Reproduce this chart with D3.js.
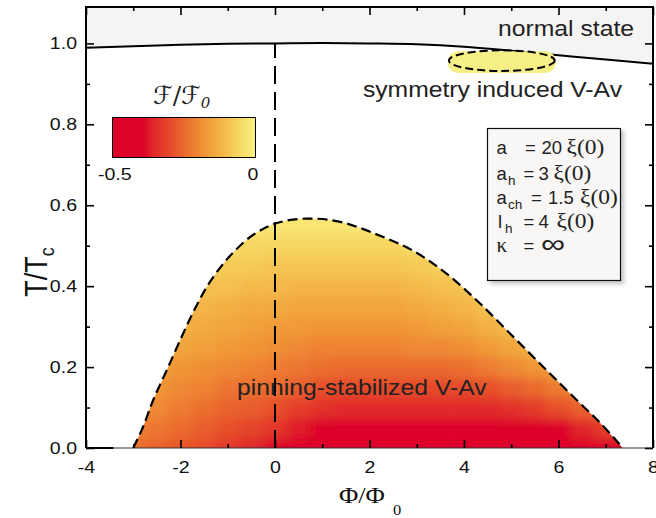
<!DOCTYPE html>
<html><head><meta charset="utf-8">
<script src="https://cdn.jsdelivr.net/npm/d3@7"></script>
<style>body{margin:0;background:#fff} svg{display:block}</style>
</head><body><svg id="c" width="656" height="518"></svg>
<script>
// ---------- data ----------
const xMajorTicks = [-4, -2, 0, 2, 4, 6, 8];
const xMinorTicks = [-3, -1, 1, 3, 5, 7];
const yMajorTicks = [0, 0.2, 0.4, 0.6, 0.8, 1.0];
const yMinorTicks = [0.1, 0.3, 0.5, 0.7, 0.9];

// upper critical line T_c(Phi) (normal state boundary)
const normalPhi = [-4, -3, -2, -1, 0, 1, 2, 3, 4, 5, 6, 7, 8];
const normalT   = [0.989, 0.993, 0.9965, 0.999, 1.0, 1.001, 1.0, 0.998, 0.992, 0.982, 0.971, 0.960, 0.950];

// pinning-stabilized V-Av boundary (dashed dome)
const domePhi = [-3.0, -2.8, -2.58, -2.3, -2.01, -1.7, -1.38, -0.95, -0.46, 0.04, 0.67, 1.38, 2.15, 2.93, 3.63, 4.34, 5.05, 5.75, 6.39, 6.9, 7.36];
const domeT   = [0, 0.05, 0.118, 0.19, 0.266, 0.343, 0.410, 0.475, 0.527, 0.556, 0.567, 0.559, 0.528, 0.487, 0.431, 0.357, 0.274, 0.192, 0.118, 0.06, 0];

// free energy map F/F0 (grid centres)
const gridPhi = [-3, -2.5, -2, -1.5, -1, -0.5, 0, 0.5, 1, 1.5, 2, 2.5, 3, 3.5, 4, 4.5, 5, 5.5, 6, 6.5, 7, 7.5];
const gridT = [0, 0.05, 0.10, 0.15, 0.20, 0.25, 0.30, 0.35, 0.40, 0.45, 0.50, 0.55];
const gridF = [
  [-0.24,-0.26,-0.28,-0.30,-0.33,-0.36,-0.39,-0.43,-0.47,-0.49,-0.50,-0.50,-0.50,-0.50,-0.50,-0.50,-0.50,-0.50,-0.49,-0.47,-0.44,-0.42],
  [-0.21,-0.23,-0.25,-0.27,-0.29,-0.31,-0.33,-0.37,-0.40,-0.41,-0.42,-0.42,-0.42,-0.42,-0.42,-0.42,-0.42,-0.41,-0.39,-0.36,-0.32,-0.30],
  [-0.19,-0.20,-0.22,-0.24,-0.26,-0.27,-0.29,-0.32,-0.34,-0.35,-0.35,-0.35,-0.35,-0.35,-0.35,-0.35,-0.34,-0.32,-0.29,-0.26,-0.24,-0.22],
  [-0.17,-0.18,-0.20,-0.21,-0.23,-0.24,-0.25,-0.27,-0.29,-0.30,-0.30,-0.30,-0.30,-0.30,-0.30,-0.29,-0.27,-0.25,-0.22,-0.20,-0.18,-0.17],
  [-0.15,-0.16,-0.18,-0.19,-0.20,-0.21,-0.22,-0.23,-0.24,-0.25,-0.25,-0.25,-0.25,-0.25,-0.24,-0.22,-0.20,-0.18,-0.16,-0.15,-0.14,-0.13],
  [-0.13,-0.14,-0.15,-0.16,-0.17,-0.18,-0.19,-0.20,-0.21,-0.21,-0.21,-0.21,-0.20,-0.20,-0.19,-0.17,-0.15,-0.13,-0.12,-0.11,-0.10,-0.10],
  [-0.11,-0.12,-0.13,-0.14,-0.15,-0.16,-0.17,-0.17,-0.18,-0.18,-0.18,-0.18,-0.17,-0.16,-0.15,-0.13,-0.11,-0.10,-0.09,-0.09,-0.08,-0.08],
  [-0.09,-0.10,-0.11,-0.12,-0.13,-0.14,-0.14,-0.15,-0.15,-0.15,-0.15,-0.15,-0.14,-0.13,-0.12,-0.10,-0.09,-0.08,-0.08,-0.07,-0.07,-0.07],
  [-0.07,-0.08,-0.09,-0.10,-0.10,-0.11,-0.11,-0.12,-0.12,-0.12,-0.12,-0.12,-0.11,-0.10,-0.09,-0.08,-0.07,-0.07,-0.06,-0.06,-0.06,-0.06],
  [-0.05,-0.06,-0.07,-0.07,-0.08,-0.08,-0.09,-0.09,-0.09,-0.09,-0.09,-0.09,-0.08,-0.07,-0.07,-0.06,-0.05,-0.05,-0.05,-0.05,-0.05,-0.05],
  [-0.03,-0.04,-0.04,-0.05,-0.05,-0.06,-0.06,-0.06,-0.06,-0.06,-0.06,-0.06,-0.05,-0.05,-0.04,-0.04,-0.04,-0.04,-0.04,-0.04,-0.04,-0.04],
  [-0.02,-0.02,-0.02,-0.03,-0.03,-0.03,-0.03,-0.03,-0.03,-0.03,-0.03,-0.03,-0.03,-0.02,-0.02,-0.02,-0.02,-0.02,-0.02,-0.02,-0.02,-0.02]
];

// colour scale of F/F0
const cbarValues = [-0.5, -0.39, -0.36, -0.30, -0.24, -0.18, -0.12, -0.06, 0];
const cbarColors = ['#dc0029', '#dd0529', '#e0262a', '#e54a2b', '#eb702f', '#f09536', '#f4b546', '#f6d560', '#f9f485'];
const cbarTickLabels = ['-0.5', '0'];

// symmetry-induced V-Av pocket
const pocketPhi = 4.8, pocketT = 0.9575, pocketRPhi = 1.12, pocketRT = 0.0255;

// labels
const labelNormal = 'normal state';
const labelSym = 'symmetry induced V-Av';
const labelPin = 'pinning-stabilized V-Av';

// ---------- drawing ----------
const W = 656, H = 518;
const m = {l: 86, r: 3, t: 7, b: 70};
const svg = d3.select('#c');
const x = d3.scaleLinear().domain([-4, 8]).range([m.l, W - m.r]);
const y = d3.scaleLinear().domain([0, 1.09]).range([H - m.b, m.t]);
const color = d3.scaleLinear().domain(cbarValues).range(cbarColors).clamp(true);
const SX = 1.15;
const SANS = "'Liberation Sans', Arial, Helvetica, sans-serif";
const SERIF = "'Liberation Serif', 'Times New Roman', serif";
const hy = f => (d => f(d).replace('\u2212', '-'));

const defs = svg.append('defs');
defs.append('clipPath').attr('id', 'plotClip').append('rect')
  .attr('x', m.l).attr('y', m.t).attr('width', W - m.r - m.l).attr('height', H - m.b - m.t);
const domeCurve = d3.curveCatmullRom.alpha(0.5);
const domeArea = d3.area().x((d, i) => x(domePhi[i])).y0(y(0)).y1((d, i) => y(domeT[i])).curve(domeCurve);
defs.append('clipPath').attr('id', 'domeClip').append('path').attr('d', domeArea(domePhi));
const blur = defs.append('filter').attr('id', 'blur').attr('filterUnits', 'userSpaceOnUse')
  .attr('x', 0).attr('y', 0).attr('width', W).attr('height', H);
blur.append('feGaussianBlur').attr('stdDeviation', 5.5);
const sh = defs.append('filter').attr('id', 'shadow').attr('x', '-10%').attr('y', '-10%').attr('width', '130%').attr('height', '130%');
sh.append('feDropShadow').attr('dx', 3).attr('dy', 3).attr('stdDeviation', 2).attr('flood-color', '#888').attr('flood-opacity', 0.5);
const grad = defs.append('linearGradient').attr('id', 'cbar').attr('x1', '0%').attr('x2', '100%').attr('y1', '0%').attr('y2', '0%');
cbarValues.forEach((v, i) => grad.append('stop').attr('offset', ((v + 0.5) / 0.5 * 100) + '%').attr('stop-color', cbarColors[i]));

const plot = svg.append('g').attr('clip-path', 'url(#plotClip)');

// normal state region
const normalArea = d3.area().x((d, i) => x(normalPhi[i])).y0(y(1.09)).y1((d, i) => y(normalT[i])).curve(d3.curveMonotoneX);
plot.append('path').attr('d', normalArea(normalPhi)).attr('fill', '#f4f4f4');

// bottom axis line (thin) below heatmap
svg.append('line').attr('x1', x(-4)).attr('x2', x(8)).attr('y1', y(0)).attr('y2', y(0)).attr('stroke', '#333').attr('stroke-width', 1);
svg.append('line').attr('x1', x(-4)).attr('x2', x(-3.42)).attr('y1', y(0)).attr('y2', y(0)).attr('stroke', '#000').attr('stroke-width', 2);

// heatmap
const dPhi = 0.5, dT = 0.05;
const heat = plot.append('g').attr('clip-path', 'url(#domeClip)').append('g').attr('filter', 'url(#blur)');
gridT.forEach((t, i) => gridPhi.forEach((p, j) => {
  let p0 = p - dPhi / 2, p1 = p + dPhi / 2, t0 = t - dT / 2, t1 = t + dT / 2;
  if (i === 0) t0 -= 0.1;
  if (i === gridT.length - 1) t1 += 0.1;
  if (j === 0) p0 -= 0.6;
  if (j === gridPhi.length - 1) p1 += 0.6;
  heat.append('rect').attr('x', x(p0)).attr('y', y(t1))
    .attr('width', x(p1) - x(p0) + 0.6).attr('height', y(t0) - y(t1) + 0.6)
    .attr('fill', color(gridF[i][j]));
}));

// normal curve
const normalLine = d3.line().x((d, i) => x(normalPhi[i])).y((d, i) => y(normalT[i])).curve(d3.curveMonotoneX);
plot.append('path').attr('d', normalLine(normalPhi)).attr('fill', 'none').attr('stroke', '#000').attr('stroke-width', 2);

// dome dashed boundary
const domeLine = d3.line().x((d, i) => x(domePhi[i])).y((d, i) => y(domeT[i])).curve(domeCurve);
plot.append('path').attr('d', domeLine(domePhi)).attr('fill', 'none').attr('stroke', '#000')
  .attr('stroke-width', 2.2).attr('stroke-dasharray', '10,5');

// vertical dashed line at Phi = 0
plot.append('line').attr('x1', x(0)).attr('x2', x(0)).attr('y1', y(0)).attr('y2', y(1.0))
  .attr('stroke', '#000').attr('stroke-width', 2).attr('stroke-dasharray', '18,8');

// pocket (yellow highlight + dashed ellipse)
plot.append('rect').attr('x', x(pocketPhi - pocketRPhi) - 1).attr('y', y(pocketT + pocketRT) + 1)
  .attr('width', x(pocketPhi + pocketRPhi) - x(pocketPhi - pocketRPhi) + 2)
  .attr('height', y(pocketT - pocketRT) - y(pocketT + pocketRT) + 1)
  .attr('rx', 10).attr('fill', '#f6ef86');
plot.append('ellipse').attr('cx', x(pocketPhi)).attr('cy', y(pocketT))
  .attr('rx', x(pocketPhi + pocketRPhi) - x(pocketPhi)).attr('ry', y(pocketT - pocketRT) - y(pocketT))
  .attr('fill', 'none').attr('stroke', '#000').attr('stroke-width', 2).attr('stroke-dasharray', '8,4');

// axes
function styleAxis(g) { g.select('.domain').remove(); g.selectAll('line').attr('stroke', '#000').attr('stroke-width', 1.6); }
svg.append('g').attr('transform', `translate(0,${y(0)})`)
  .call(d3.axisBottom(x).tickValues(xMajorTicks).tickSizeInner(-8).tickSizeOuter(0).tickPadding(13).tickFormat(hy(d3.format('d'))))
  .call(styleAxis)
  .call(g => g.selectAll('text').attr('font-family', SANS).attr('font-size', 17).attr('fill', '#111').attr('transform', `scale(${SX},1)`));
svg.append('g').attr('transform', `translate(0,${y(0)})`)
  .call(d3.axisBottom(x).tickValues(xMinorTicks).tickSizeInner(-4).tickSizeOuter(0).tickFormat(''))
  .call(styleAxis);
svg.append('g').attr('transform', `translate(0,${y(1.09)})`)
  .call(d3.axisTop(x).tickValues(xMajorTicks).tickSizeInner(-8).tickSizeOuter(0).tickFormat(''))
  .call(styleAxis);
svg.append('g').attr('transform', `translate(0,${y(1.09)})`)
  .call(d3.axisTop(x).tickValues(xMinorTicks).tickSizeInner(-4).tickSizeOuter(0).tickFormat(''))
  .call(styleAxis);
svg.append('g').attr('transform', `translate(${x(-4)},0)`)
  .call(d3.axisLeft(y).tickValues(yMajorTicks).tickSizeInner(-8).tickSizeOuter(0).tickFormat(d3.format('.1f')))
  .call(styleAxis)
  .call(g => g.selectAll('text').attr('font-family', SANS).attr('font-size', 17).attr('fill', '#111')
    .attr('x', null).attr('transform', `translate(-9,0) scale(${SX},1)`));
svg.append('g').attr('transform', `translate(${x(-4)},0)`)
  .call(d3.axisLeft(y).tickValues(yMinorTicks).tickSizeInner(-4).tickSizeOuter(0).tickFormat(''))
  .call(styleAxis);
svg.append('g').attr('transform', `translate(${x(8)},0)`)
  .call(d3.axisRight(y).tickValues(yMajorTicks).tickSizeInner(-8).tickSizeOuter(0).tickFormat(''))
  .call(styleAxis);
svg.append('g').attr('transform', `translate(${x(8)},0)`)
  .call(d3.axisRight(y).tickValues(yMinorTicks).tickSizeInner(-4).tickSizeOuter(0).tickFormat(''))
  .call(styleAxis);
// frame (left, top, right)
svg.append('path').attr('d', `M${x(-4)},${y(0)}V${y(1.09)}H${x(8)}V${y(0)}`)
  .attr('fill', 'none').attr('stroke', '#000').attr('stroke-width', 2);

// text helper
function txt(px, py, s, size, opt = {}) {
  const t = svg.append('text').attr('transform', `translate(${px},${py}) scale(${opt.sx ?? SX},1)`)
    .attr('font-family', opt.family || SANS).attr('font-size', size).attr('fill', opt.fill || '#222')
    .attr('text-anchor', opt.anchor || 'start').text(s);
  if (opt.style) t.attr('font-style', opt.style);
  return t;
}

txt(634, 36, labelNormal, 21.5, {anchor: 'end'});
txt(622, 97, labelSym, 21.5, {anchor: 'end'});
txt(237, 395, labelPin, 21.5);

// axis titles
const yt = svg.append('text').attr('transform', `translate(47,272) scale(${SX},1) rotate(-90)`)
  .attr('font-family', SANS).attr('font-size', 27).attr('fill', '#111').attr('text-anchor', 'middle');
yt.append('tspan').text('T/T');
yt.append('tspan').attr('font-size', 18).attr('dy', 6).text('c');
txt(339, 503, 'Φ/Φ', 24, {family: SERIF, fill: '#111', sx: 1.1});
txt(393, 515, '0', 15, {family: SERIF, fill: '#111', sx: 1.1});

// colour bar
svg.append('rect').attr('x', 112.5).attr('y', 117.5).attr('width', 143).attr('height', 40)
  .attr('fill', 'url(#cbar)').attr('stroke', '#000').attr('stroke-width', 1);
txt(98, 180, cbarTickLabels[0], 17, {fill: '#111'});
txt(253, 180, cbarTickLabels[1], 17, {fill: '#111', anchor: 'middle'});
const ct = svg.append('text').attr('transform', `translate(153,104)`)
  .attr('font-family', "'DejaVu Serif', 'DejaVu Sans', serif").attr('font-size', 25).attr('fill', '#222');
ct.append('tspan').text('ℱ/ℱ');
ct.append('tspan').attr('font-size', 15).attr('font-style', 'italic').attr('dy', 4).text('0');

// parameter box
svg.append('rect').attr('x', 487.5).attr('y', 128.5).attr('width', 133).attr('height', 152)
  .attr('fill', '#f8f7f5').attr('stroke', '#111').attr('stroke-width', 1.2).attr('filter', 'url(#shadow)');
const bs = 18.5, bsub = 13.5, bsx = 1.0, xs = 21, xsx = 1.12;
// line 1
txt(496.5, 154, 'a', bs, {sx: bsx});
txt(525, 154, '=', bs, {sx: bsx});
txt(541.5, 154, '20', bs, {sx: bsx});
txt(566.5, 154, 'ξ(0)', xs, {family: SERIF, sx: xsx});
// line 2
txt(496.5, 179.5, 'a', bs, {sx: bsx});
txt(508, 185, 'h', bsub, {sx: bsx});
txt(523.5, 179.5, '=', bs, {sx: bsx});
txt(538.5, 179.5, '3', bs, {sx: bsx});
txt(553.5, 179.5, 'ξ(0)', xs, {family: SERIF, sx: xsx});
// line 3
txt(496.5, 203.5, 'a', bs, {sx: bsx});
txt(508, 209, 'ch', bsub, {sx: bsx});
txt(531, 203.5, '=', bs, {sx: bsx});
txt(548, 203.5, '1.5', bs, {sx: bsx});
txt(580, 203.5, 'ξ(0)', xs, {family: SERIF, sx: xsx});
// line 4
txt(498, 227.5, 'l', bs, {sx: bsx});
txt(505, 233, 'h', bsub, {sx: bsx});
txt(523.5, 227.5, '=', bs, {sx: bsx});
txt(538.5, 227.5, '4', bs, {sx: bsx});
txt(556.5, 227.5, 'ξ(0)', xs, {family: SERIF, sx: xsx});
// line 5
txt(496.5, 251.5, 'κ', 21, {family: SERIF, sx: bsx});
txt(523.5, 251.5, '=', bs, {sx: bsx});
txt(541, 253, '∞', 27, {sx: 1.25});
</script></body></html>
